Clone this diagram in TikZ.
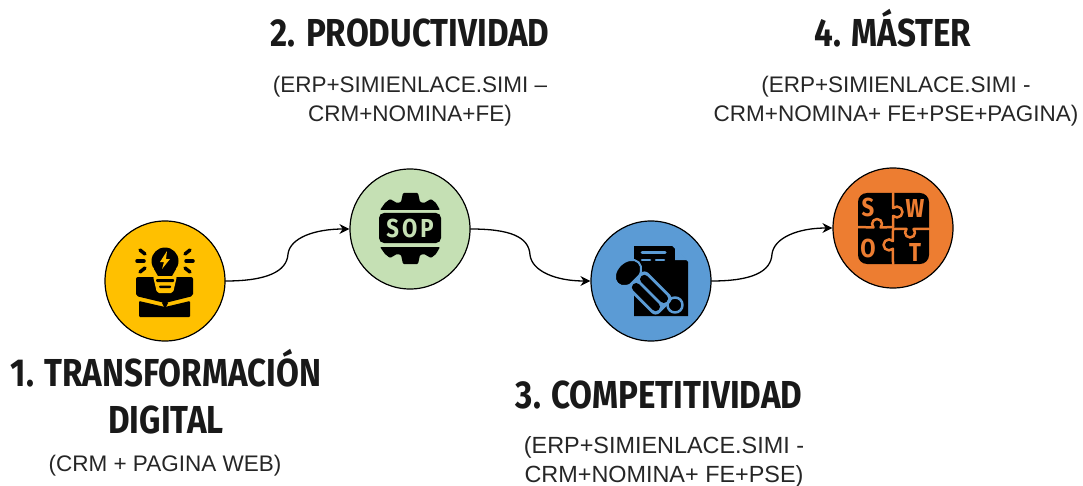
\documentclass[tikz,border=0pt]{standalone}
\usepackage{fontspec}
\usetikzlibrary{arrows.meta}
\setmainfont{Liberation Sans}
\newfontfamily\headfont[FakeStretch=0.85]{Fira Sans Bold}
\definecolor{amarillo}{HTML}{FFC000}
\definecolor{verde}{HTML}{C5E0B4}
\definecolor{azul}{HTML}{5B9BD5}
\definecolor{naranja}{HTML}{ED7D31}
\tikzset{
	etapa/.style={circle,draw=black,line width=1.2pt,minimum size=120pt,inner sep=0pt},
	titulo/.style={font=\headfont\fontsize{39}{47}\selectfont,align=center,text=black!90,inner sep=0pt},
	detalle/.style={font=\fontsize{22.5}{29}\selectfont,align=center,text=black!85,inner sep=0pt},
	enlace/.style={line width=1.3pt,-{Stealth[length=10pt,width=10pt]}},
	letra/.style={font=\headfont\fontsize{26}{26}\selectfont,text=naranja,inner sep=0pt},
}
\begin{document}
\begin{tikzpicture}[x=1pt,y=-1pt,line join=round,line cap=round,>=stealth]
	\useasboundingbox (0,0) rectangle (1083,486);
	\node[etapa,fill=amarillo] (E1) at (165,281) {};
	\node[etapa,fill=verde] (E2) at (410,229) {};
	\node[etapa,fill=azul] (E3) at (651,281) {};
	\node[etapa,fill=naranja] (E4) at (893,228) {};
	\path (288,254) coordinate (M1) (530,255) coordinate (M2) (772,254) coordinate (M3);
	\draw[enlace] (E1.east) .. controls +(40,0) and +(-1,18) .. (M1) .. controls +(2,-16) and +(-35,0) .. (E2.west);
	\draw[enlace] (E2.east) .. controls +(40,0) and +(-1,-18) .. (M2) .. controls +(2,16) and +(-35,0) .. (E3.west);
	\draw[enlace] (E3.east) .. controls +(40,0) and +(-1,18) .. (M3) .. controls +(2,-16) and +(-35,0) .. (E4.west);
	\node[titulo] (T1) at (166,392) {1. TRANSFORMACIÓN\\DIGITAL};
	\node[titulo,anchor=base] (T2) at (410,47) {2. PRODUCTIVIDAD};
	\node[titulo,anchor=base] (T3) at (659,408) {3. COMPETITIVIDAD};
	\node[titulo,anchor=base] (T4) at (893,47) {4. MÁSTER};
	\node[detalle] (D1) at (165,466) {(CRM + PAGINA WEB)};
	\node[detalle] (D2) at (410,101) {(ERP+SIMIENLACE.SIMI --\\CRM+NOMINA+FE)};
	\node[detalle,font=\fontsize{23.4}{29}\selectfont] (D3) at (664,462) {(ERP+SIMIENLACE.SIMI -\\CRM+NOMINA+ FE+PSE)};
	\node[detalle] (D4) at (896,101) {(ERP+SIMIENLACE.SIMI -\\CRM+NOMINA+ FE+PSE+PAGINA)};
	\begin{scope}[shift={(165,281)}]
		\fill[black] (0,-20) circle (13.5);
		\fill[black] (-11,-12) -- (11,-12) -- (7,-5) -- (-7,-5) -- cycle;
		\fill[black,rounded corners=2pt] (-29,-4) -- (28,-4) -- (28,15) -- (0,22) -- (-29,15) -- cycle;
		\fill[black,rounded corners=1pt] (-26,20) -- (0,26) -- (25,20) -- (25,36) -- (-26,36) -- cycle;
		\fill[black] (0,18) -- (3,22) -- (0,28) -- (-3,22) -- cycle;
		\fill[amarillo,rounded corners=2pt] (-12,-5) -- (12,-5) -- (8,12) -- (-8,12) -- cycle;
		\fill[black,rounded corners=1pt] (-9,-2) rectangle (9,1);
		\fill[black,rounded corners=1pt] (-6,4.5) rectangle (6,7);
		\fill[amarillo] (2,-30) -- (-5,-19) -- (-1,-19) -- (-3,-12) -- (5,-22) -- (1,-22) -- cycle;
		\foreach \xa/\ya/\xb/\yb in {-25/-31/-20/-27,-28/-20/-21/-20,-25/-9/-20/-13,25/-31/20/-27,28/-20/21/-20,25/-9/20/-13}{
			\draw[black,line width=3.5pt] (\xa,\ya) -- (\xb,\yb);
		}
	\end{scope}
	\begin{scope}[shift={(410,229)}]
		\fill[black,rounded corners=1pt] (-30,-19) -- (-25,-26) -- (-20,-30) -- (-13,-26) -- (-9,-27) -- (-7,-36) -- (8,-36) -- (10,-27) -- (14,-26) -- (21,-30) -- (26,-26) -- (30,-19) -- cycle;
		\fill[black,rounded corners=1pt] (-30,18) -- (-25,25) -- (-20,29) -- (-13,25) -- (-9,26) -- (-7,35) -- (8,35) -- (10,26) -- (14,25) -- (21,29) -- (26,25) -- (30,18) -- cycle;
		\fill[black,rounded corners=5pt] (-31,-16) rectangle (31,14);
		\node[font=\headfont\fontsize{26}{26}\selectfont,text=verde,inner sep=0pt] (S2) at (0,-1) {S\kern3pt O\kern3pt P};
	\end{scope}
	\begin{scope}[shift={(651,281)}]
		\fill[black] (-17,-35) -- (21,-35) -- (37,-19) -- (37,35) -- (-17,35) -- cycle;
		\fill[azul] (24,-34) -- (36,-21) -- (24,-21) -- cycle;
		\draw[azul,line width=3pt] (-9,-28.5) -- (14,-28.5);
		\draw[azul,line width=2.5pt] (-9,-21) -- (-1,-21) (5,-21) -- (13,-21);
		\filldraw[black,draw=azul,line width=2pt,rotate around={45:(-23,-8)}] (-23,-8) ellipse (15 and 11);
		\begin{scope}[shift={(-1,12)},rotate=-45]
			\fill[azul,rounded corners=6pt] (-21,-13) rectangle (21,13);
			\fill[black,rounded corners=4pt] (-18,-10) rectangle (18,-1.5);
			\fill[black,rounded corners=4pt] (-18,1.5) rectangle (18,10);
		\end{scope}
		\draw[azul,line width=2.5pt] (24,24) circle (7.5);
	\end{scope}
	\begin{scope}[shift={(893,228)}]
		\fill[black,rounded corners=9pt] (-35,-35) rectangle (36,36);
		\begin{scope}[naranja,line width=2.5pt]
			\draw (0,-35) -- (0.1,-19.9) arc (-135:135:5.5) -- (0,-1);
			\draw (-35,-1) -- (-19.5,-0.5) arc (135:405:5) -- (0,-1);
			\draw (0,1) -- (13.5,1) arc (225:-45:5) -- (36,1);
			\draw (0,1) -- (-0.1,13) arc (-45:-315:5.5) -- (0,36);
		\end{scope}
		\foreach \p/\xl/\yl in {S/-25/-21,W/22/-20,O/-25/20,T/22/24}{
			\node[letra] (L\p) at (\xl,\yl) {\p};
		}
	\end{scope}
\end{tikzpicture}
\end{document}
